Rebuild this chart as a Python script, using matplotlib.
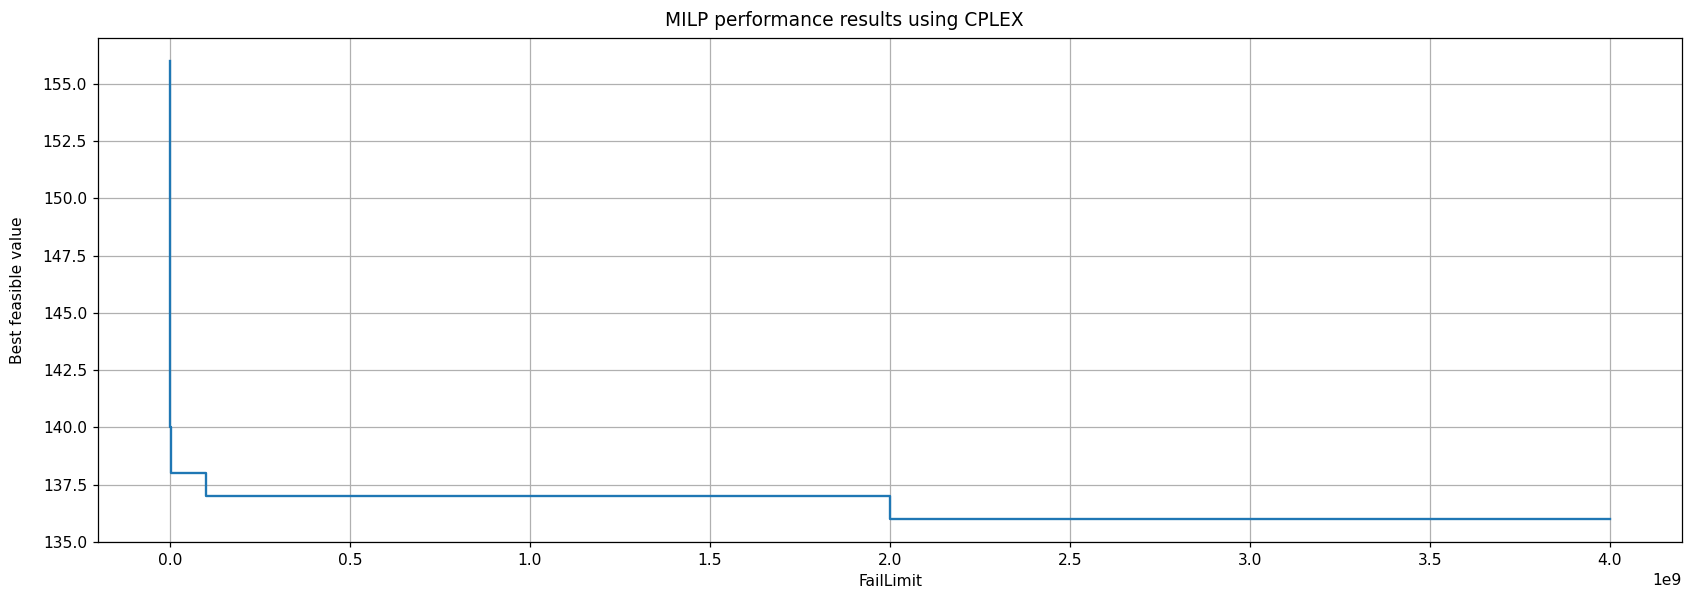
import matplotlib.pyplot as plt

# FailLimit settings and the best feasible objective found for each
fail_limits = [1e4, 1e5, 1e6, 4e6, 1e8, 5e8, 1e9, 2e9, 3e9, 4e9]
best_values = [156, 150, 140, 138, 137, 137, 137, 136, 136, 136]

fig = plt.figure(figsize=(1689 / 112, 594 / 112), dpi=112)
ax = fig.add_subplot(111)
ax.step(fail_limits, best_values, where='post')

ax.set_xlabel('FailLimit')
ax.set_ylabel('Best feasible value')
ax.yaxis.set_label_coords(-0.046, 0.5)
# title is centred on the figure, not on the axes
fig.suptitle('MILP performance results using CPLEX', y=1 - 20 / 594, va='center')
ax.grid(True)
plt.subplots_adjust(left=98 / 1689, right=1682 / 1689, top=1 - 38 / 594, bottom=1 - 542 / 594)
plt.savefig('out.png')
plt.close()
